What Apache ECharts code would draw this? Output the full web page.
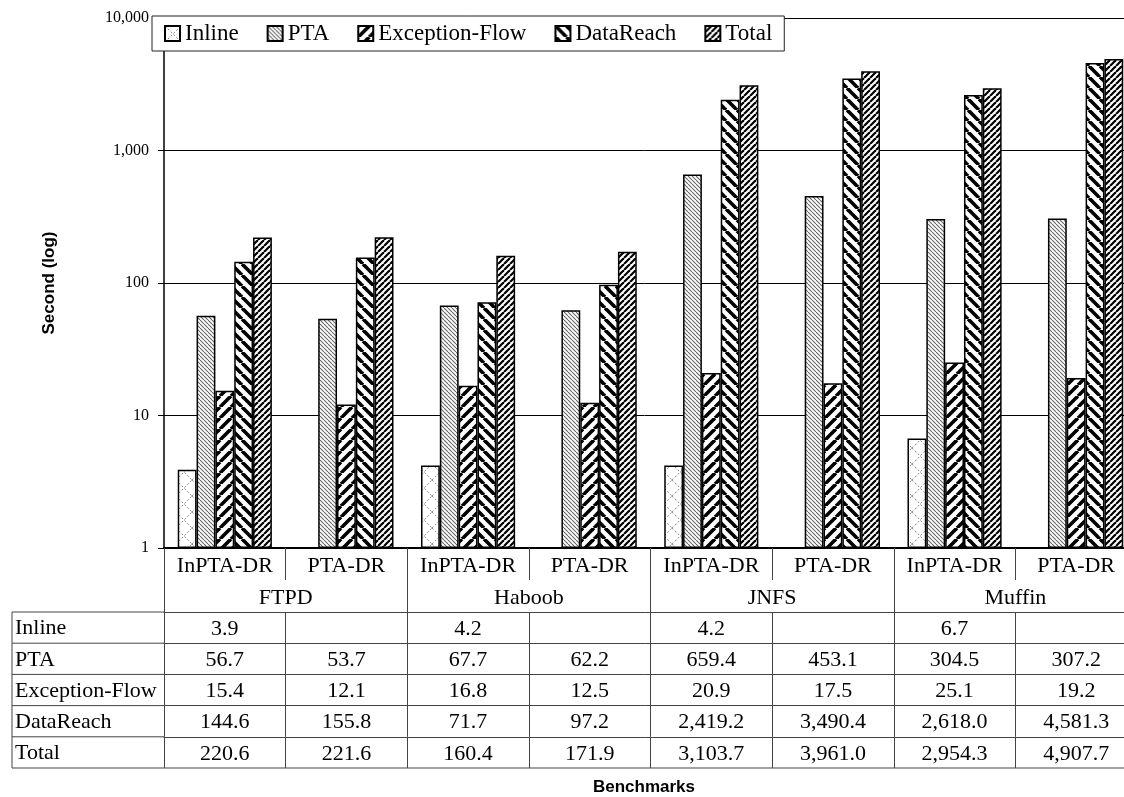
<!DOCTYPE html>
<html>
<head>
<meta charset="utf-8">
<title>Benchmarks</title>
<script src="https://cdn.jsdelivr.net/npm/echarts@6/dist/echarts.min.js"></script>
<style>
  html, body { margin: 0; padding: 0; background: #fff; }
  #chart { width: 1124px; height: 797px; }
</style>
</head>
<body>
<div id="chart"></div>
<script>
// data
const configs = ['InPTA-DR', 'PTA-DR', 'InPTA-DR', 'PTA-DR', 'InPTA-DR', 'PTA-DR', 'InPTA-DR', 'PTA-DR'];
const benchmarks = ['FTPD', 'Haboob', 'JNFS', 'Muffin'];
const seriesNames = ['Inline', 'PTA', 'Exception-Flow', 'DataReach', 'Total'];
const inlineVals = [3.9, null, 4.2, null, 4.2, null, 6.7, null];
const ptaVals = [56.7, 53.7, 67.7, 62.2, 659.4, 453.1, 304.5, 307.2];
const excFlowVals = [15.4, 12.1, 16.8, 12.5, 20.9, 17.5, 25.1, 19.2];
const dataReachVals = [144.6, 155.8, 71.7, 97.2, 2419.2, 3490.4, 2618.0, 4581.3];
const totalVals = [220.6, 221.6, 160.4, 171.9, 3103.7, 3961.0, 2954.3, 4907.7];
const yTicks = [1, 10, 100, 1000, 10000];

const allVals = [inlineVals, ptaVals, excFlowVals, dataReachVals, totalVals];

const serif = "'Liberation Serif', 'Times New Roman', serif";
const sans = "'Liberation Sans', Arial, sans-serif";
const lineCol = '#444';

// layout
const axisY = 548;
const tableTop = 612;
const rowH = 31.2;
const labelColX = 12;
const plotLeft = 164;

// hatch fills, excel style
function hatch(size, dirs, color, width, dash) {
    const c = document.createElement('canvas');
    c.width = c.height = size;
    const g = c.getContext('2d');
    g.fillStyle = '#fff';
    g.fillRect(0, 0, size, size);
    g.strokeStyle = color;
    g.lineWidth = width;
    if (dash) g.setLineDash(dash);
    dirs.forEach(function (d) {
        for (let k = -1; k <= 1; k++) {
            g.beginPath();
            if (d === '/') {
                g.moveTo(k * size, size);
                g.lineTo(k * size + size, 0);
            } else {
                g.moveTo(k * size, 0);
                g.lineTo(k * size + size, size);
            }
            g.stroke();
        }
    });
    return { image: c, repeat: 'repeat' };
}

const fills = [
    hatch(16, ['/', '\\'], '#888', 1, [2, 2]),
    hatch(4, ['\\'], '#666', 1.1),
    hatch(11, ['/'], '#000', 3.6),
    hatch(11, ['\\'], '#000', 3.6),
    hatch(6, ['/'], '#000', 2.2)
];

function fmt(v) {
    if (v == null) return '';
    return v.toLocaleString('en-US', { minimumFractionDigits: 1, maximumFractionDigits: 1 });
}

const chart = echarts.init(document.getElementById('chart'));

const xAxes = [
    {
        type: 'category',
        data: configs,
        position: 'bottom',
        axisLine: { show: true, onZero: false, lineStyle: { color: '#000', width: 2 } },
        axisTick: { show: true, interval: 0, length: 32, lineStyle: { color: lineCol } },
        axisLabel: { interval: 0, margin: 7, color: '#000', fontFamily: serif, fontSize: 22 }
    },
    {
        type: 'category',
        data: benchmarks,
        position: 'bottom',
        offset: 32,
        axisLine: { show: true, onZero: false, lineStyle: { color: 'rgba(0,0,0,0)', width: 0 } },
        axisTick: { show: true, interval: 0, length: 32, lineStyle: { color: lineCol } },
        axisLabel: { interval: 0, margin: 7, color: '#000', fontFamily: serif, fontSize: 22 }
    }
];

// one category axis per data table row
allVals.forEach(function (vals, r) {
    xAxes.push({
        type: 'category',
        data: configs,
        position: 'bottom',
        offset: tableTop - axisY + r * rowH,
        axisLine: { show: true, onZero: false, lineStyle: { color: lineCol, width: 1 } },
        axisTick: { show: true, interval: 0, length: rowH, lineStyle: { color: lineCol } },
        axisLabel: {
            interval: 0, margin: 6, color: '#000', fontFamily: serif, fontSize: 22,
            formatter: function (v, i) { return fmt(vals[i]); }
        }
    });
});

const graphics = [];
for (let r = 0; r <= allVals.length; r++) {
    const y = tableTop + r * rowH;
    graphics.push({
        type: 'line', z: 100,
        shape: { x1: labelColX, y1: y, x2: r === allVals.length ? 1124 : plotLeft, y2: y },
        style: { stroke: lineCol, lineWidth: 1 }
    });
}
graphics.push({
    type: 'line', z: 100,
    shape: { x1: labelColX, y1: tableTop, x2: labelColX, y2: tableTop + allVals.length * rowH },
    style: { stroke: lineCol, lineWidth: 1 }
});
seriesNames.forEach(function (name, r) {
    graphics.push({
        type: 'text', z: 100,
        x: labelColX + 3, y: tableTop + r * rowH + rowH / 2 + 1,
        style: { text: name, fill: '#000', font: '22px ' + serif, verticalAlign: 'middle', align: 'left' }
    });
});
graphics.push({
    type: 'text', z: 100,
    x: 644, y: 787,
    style: { text: 'Benchmarks', fill: '#000', font: 'bold 17px ' + sans, verticalAlign: 'middle', align: 'center' }
});

const option = {
    animation: false,
    backgroundColor: '#fff',
    grid: {
        left: plotLeft, right: -13, top: 18, bottom: 797 - axisY,
        containLabel: false, outerBoundsMode: 'none'
    },
    legend: {
        data: seriesNames,
        left: 152, top: 16,
        padding: [6, 12, 6, 12],
        itemGap: 28,
        itemWidth: 15, itemHeight: 15,
        icon: 'rect',
        selectedMode: false,
        backgroundColor: '#fff',
        borderColor: '#222', borderWidth: 1,
        textStyle: { color: '#000', fontFamily: serif, fontSize: 23 }
    },
    xAxis: xAxes,
    yAxis: {
        type: 'log',
        logBase: 10,
        min: yTicks[0],
        max: yTicks[yTicks.length - 1],
        name: 'Second (log)',
        nameLocation: 'middle',
        nameGap: 106,
        nameTextStyle: { color: '#000', fontFamily: sans, fontWeight: 'bold', fontSize: 17 },
        axisLine: { show: true, lineStyle: { color: '#000', width: 1.5 } },
        axisTick: { show: true, length: 6, lineStyle: { color: '#000' } },
        splitLine: { show: true, lineStyle: { color: '#000', width: 1 } },
        axisLabel: {
            margin: 15, color: '#000', fontFamily: serif, fontSize: 16,
            formatter: function (v) { return v.toLocaleString('en-US'); }
        }
    },
    series: seriesNames.map(function (name, k) {
        return {
            name: name,
            type: 'bar',
            xAxisIndex: 0,
            data: allVals[k],
            barGap: '0%',
            barCategoryGap: '22.6%',
            itemStyle: { color: fills[k], borderColor: '#000', borderWidth: 1.5 }
        };
    }),
    graphic: graphics
};

chart.setOption(option);
</script>
</body>
</html>
